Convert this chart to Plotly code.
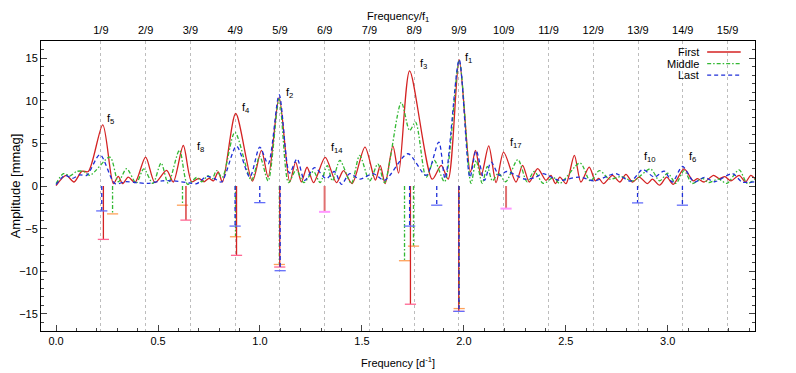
import plotly.graph_objects as go

# frequencies in d^-1, amplitudes in mmag
f1 = 1.976

red_freq = [0.000, 0.049, 0.088, 0.126, 0.158, 0.229, 0.281, 0.305, 0.326, 0.354, 0.387, 0.439, 0.485,
            0.542, 0.575, 0.624, 0.665, 0.700, 0.725, 0.750, 0.772, 0.795, 0.816, 0.881, 0.963, 1.007,
            1.040, 1.094, 1.146, 1.175, 1.203, 1.231, 1.263, 1.320, 1.375, 1.410, 1.452, 1.515, 1.566,
            1.590, 1.614, 1.652, 1.680, 1.734, 1.845, 1.889, 1.923, 1.977, 2.032, 2.057, 2.085, 2.122,
            2.158, 2.195, 2.256, 2.288, 2.321, 2.362, 2.403, 2.427, 2.449, 2.471, 2.501, 2.542, 2.574,
            2.615, 2.645, 2.662, 2.685, 2.729, 2.765, 2.795, 2.827, 2.860, 2.900, 2.925, 2.960, 2.995,
            3.027, 3.080, 3.125, 3.146, 3.178, 3.225, 3.252, 3.280, 3.310, 3.350, 3.382, 3.407, 3.428]
red_amp = [0.05, 1.25, 0.47, 1.72, 1.70, 7.17, 0.28, 1.13, 0.28, 1.05, 0.40, 3.39, 0.40,
           1.83, 0.47, 4.75, 0.50, 0.90, 0.50, 0.90, 0.60, 1.64, 0.47, 8.50, 0.58, 4.17,
           1.05, 10.35, 0.47, 2.80, 0.47, 2.20, 0.40, 3.35, 0.40, 1.80, 0.28, 4.56, 0.70,
           2.40, 0.28, 4.70, 1.50, 13.50, 0.80, 2.42, 0.80, 14.80, 1.64, 4.17, 1.25, 4.70,
           0.40, 3.97, 0.47, 2.42, 0.47, 2.03, 0.67, 1.25, 0.28, 1.05, 0.28, 3.59, 0.47,
           2.22, 0.60, 0.90, 0.28, 1.25, 0.47, 1.37, 0.47, 1.05, 0.28, 0.80, 0.10, 1.05,
           0.20, 2.00, 0.60, 0.86, 0.47, 1.25, 0.86, 1.10, 0.60, 1.25, 0.47, 1.25, 0.86]

green_freq = [0.000, 0.036, 0.070, 0.100, 0.134, 0.166, 0.264, 0.305, 0.346, 0.393, 0.430, 0.475,
              0.515, 0.550, 0.605, 0.645, 0.690, 0.715, 0.745, 0.765, 0.787, 0.815, 0.877, 0.958,
              0.999, 1.040, 1.094, 1.140, 1.178, 1.215, 1.262, 1.295, 1.330, 1.355, 1.392, 1.448,
              1.489, 1.538, 1.578, 1.611, 1.693, 1.734, 1.763, 1.815, 1.855, 1.905, 1.977, 2.035,
              2.060, 2.090, 2.115, 2.140, 2.170, 2.205, 2.265, 2.310, 2.345, 2.390, 2.440, 2.470,
              2.570, 2.620, 2.665, 2.715, 2.770, 2.830, 2.915, 2.960, 3.000, 3.040, 3.080, 3.120,
              3.170, 3.200, 3.250, 3.290, 3.350, 3.390, 3.428]
green_amp = [0.28, 1.45, 1.20, 1.70, 1.72, 1.25, 3.39, 0.50, 2.03, 0.35, 2.00, 0.30,
             2.70, 0.30, 4.20, 0.20, 1.00, 0.50, 1.20, 0.80, 1.80, 1.00, 6.30, 0.67,
             3.47, 0.60, 10.20, 0.40, 1.90, 0.40, 1.70, 0.40, 2.40, 0.60, 3.00, 0.30,
             3.59, 0.60, 2.60, 0.40, 9.80, 6.50, 7.50, 1.00, 3.00, 0.50, 14.65, 0.30,
             3.00, 0.30, 2.30, 0.60, 1.50, 0.50, 3.10, 0.50, 1.70, 0.30, 1.00, 0.30,
             2.70, 0.60, 1.80, 0.80, 1.10, 0.60, 2.00, 0.60, 1.50, 0.30, 1.80, 0.30,
             0.90, 0.40, 0.80, 0.30, 1.90, 0.30, 0.80]

blue_freq = [0.000, 0.044, 0.080, 0.115, 0.150, 0.215, 0.289, 0.340, 0.395, 0.450, 0.520, 0.575,
             0.656, 0.690, 0.739, 0.775, 0.811, 0.885, 0.950, 0.999, 1.040, 1.094, 1.145, 1.182,
             1.219, 1.268, 1.325, 1.365, 1.400, 1.440, 1.490, 1.555, 1.611, 1.725, 1.815, 1.877,
             1.908, 1.977, 2.030, 2.060, 2.101, 2.134, 2.174, 2.210, 2.300, 2.350, 2.387, 2.468,
             2.566, 2.640, 2.713, 2.746, 2.819, 2.877, 2.934, 2.983, 3.023, 3.072, 3.130, 3.180,
             3.230, 3.317, 3.365, 3.428]
blue_amp = [0.16, 1.25, 0.90, 1.30, 1.25, 3.67, 0.28, 0.50, 0.40, 0.30, 0.60, 0.60,
            0.35, 0.28, 1.13, 0.90, 0.47, 4.67, 1.05, 4.56, 2.60, 10.70, 1.50, 3.20,
            0.67, 2.15, 0.86, 1.70, 0.20, 1.45, 0.80, 1.45, 0.67, 3.78, 1.25, 5.14,
            0.86, 14.80, 1.00, 4.17, 0.67, 2.80, 1.25, 1.70, 0.80, 1.00, 1.45, 0.67,
            1.05, 0.60, 1.25, 1.45, 0.58, 1.92, 1.05, 1.75, 0.47, 2.30, 0.47, 1.00,
            0.50, 1.45, 0.47, 0.50]

# fitted amplitudes, drawn downwards
bar_red_freq = [0.232, 0.637, 0.885, 1.097, 1.738, 1.975]
bar_red_amp = [-6.26, -4.00, -8.13, -9.50, -13.86, -14.70]
bar_red2_freq = [1.317, 2.207]
bar_red2_amp = [-3.03, -2.65]
bar_green_freq = [0.277, 0.620, 0.880, 1.095, 1.709, 1.753, 1.977]
bar_green_amp = [-3.27, -2.25, -5.95, -9.20, -8.76, -7.05, -14.37]
bar_blue_freq = [0.224, 0.878, 0.999, 1.099, 1.734, 1.867, 1.976, 2.852, 3.072]
bar_blue_amp = [-2.92, -4.70, -1.95, -9.93, -4.70, -2.25, -14.70, -1.98, -2.25]

peak_names = ["f<sub>5</sub>", "f<sub>8</sub>", "f<sub>4</sub>", "f<sub>2</sub>", "f<sub>14</sub>",
              "f<sub>3</sub>", "f<sub>1</sub>", "f<sub>17</sub>", "f<sub>10</sub>", "f<sub>6</sub>"]
peak_freq = [0.240, 0.682, 0.902, 1.118, 1.339, 1.775, 1.996, 2.217, 2.874, 3.095]
peak_amp = [7.9, 4.6, 9.1, 10.95, 4.4, 14.3, 15.0, 5.0, 3.35, 3.35]

top_ticks = [k * f1 / 9 for k in range(1, 16)]
top_text = ["%d/9" % k for k in range(1, 16)]

RED = "#d42222"
GREEN = "#33b833"
BLUE = "#1f2fd8"
DASH = "4px,3px"
DASHDOT = "4px,2px,1.5px,2px"
FONT = "Liberation Sans"


def stems(freq, amp):
    xs, ys = [], []
    for f, a in zip(freq, amp):
        xs += [f, f, None]
        ys += [0, a, None]
    return xs, ys


fig = go.Figure()

for fr, am, col, dash in [(red_freq, red_amp, RED, "solid"),
                          (green_freq, green_amp, GREEN, DASHDOT),
                          (blue_freq, blue_amp, BLUE, DASH)]:
    fig.add_trace(go.Scatter(x=fr, y=am, mode="lines",
                             line=dict(color=col, width=1.3, dash=dash, shape="spline", smoothing=0.8),
                             showlegend=False, hoverinfo="skip"))

for fr, am, col, dash, w in [(bar_green_freq, bar_green_amp, GREEN, DASHDOT, 1.3),
                             (bar_red_freq, bar_red_amp, RED, "solid", 1.3),
                             (bar_red2_freq, bar_red2_amp, "#e07070", "solid", 2),
                             (bar_blue_freq, bar_blue_amp, BLUE, DASH, 1.3)]:
    xs, ys = stems(fr, am)
    fig.add_trace(go.Scatter(x=xs, y=ys, mode="lines", line=dict(color=col, width=w, dash=dash),
                             showlegend=False, hoverinfo="skip"))
    fig.add_trace(go.Scatter(x=fr, y=am, mode="markers",
                             marker=dict(symbol="line-ew-open", size=8, line=dict(color=col, width=w)),
                             showlegend=False, hoverinfo="skip"))

# carrier for the top axis
fig.add_trace(go.Scatter(x=[f1], y=[0], xaxis="x2", mode="lines", showlegend=False, hoverinfo="skip"))

for name, fx, fy in zip(peak_names, peak_freq, peak_amp):
    fig.add_annotation(x=fx, y=fy, text=name, showarrow=False, xanchor="left", yanchor="middle",
                       font=dict(size=11, color="black"))

# gnuplot-style key: right-aligned text with sample line on the right
for i, (lbl, col, dash) in enumerate([("First", RED, "solid"), ("Middle", GREEN, DASHDOT),
                                      ("Last", BLUE, DASH)]):
    yy = 0.962 - i * 0.040
    fig.add_annotation(xref="paper", yref="paper", x=0.924, y=yy, text=lbl, showarrow=False,
                       xanchor="right", yanchor="middle", font=dict(size=11, color="black"))
    fig.add_shape(type="line", xref="paper", yref="paper", x0=0.933, x1=0.980, y0=yy, y1=yy,
                  line=dict(color=col, width=1.3, dash=dash))

# axis titles
fig.add_annotation(xref="paper", yref="paper", x=0.5, y=1.084, text="Frequency/f<sub>1</sub>",
                   showarrow=False, xanchor="center", yanchor="middle", font=dict(size=11))
fig.add_annotation(xref="paper", yref="paper", x=0.5, y=-0.107, text="Frequency [d<sup>-1</sup>]",
                   showarrow=False, xanchor="center", yanchor="middle", font=dict(size=11))

# the page body has an 8px margin, so the figure is 8px smaller and the margins shifted
xr = [-0.074, 3.428]
fig.update_layout(
    width=788, height=365,
    margin=dict(l=33, r=41, t=33, b=42),
    plot_bgcolor="white", paper_bgcolor="white",
    font=dict(family=FONT, size=11, color="black"),
    xaxis=dict(range=xr, dtick=0.5, tick0=0, tickformat=".1f", ticks="inside", ticklen=6,
               minor=dict(dtick=0.1, ticks="inside", ticklen=3), showgrid=False, zeroline=False,
               showline=True, linecolor="black", linewidth=1, mirror=True, automargin=False),
    xaxis2=dict(range=xr, overlaying="x", side="top", tickvals=top_ticks, ticktext=top_text,
                ticks="", showgrid=True, griddash="dot", gridcolor="#bdbdbd", gridwidth=1,
                zeroline=False, showline=False, automargin=False, ticklabelstandoff=4),
    yaxis=dict(range=[-17, 17], tickvals=[-15, -10, -5, 0, 5, 10, 15], ticks="inside", ticklen=6,
               minor=dict(dtick=1, ticks="inside", ticklen=3), showgrid=False, zeroline=False,
               showline=True, linecolor="black", linewidth=1, mirror="ticks", automargin=False,
               title=dict(text="Amplitude [mmag]")),
)

fig.write_html("out.html")
